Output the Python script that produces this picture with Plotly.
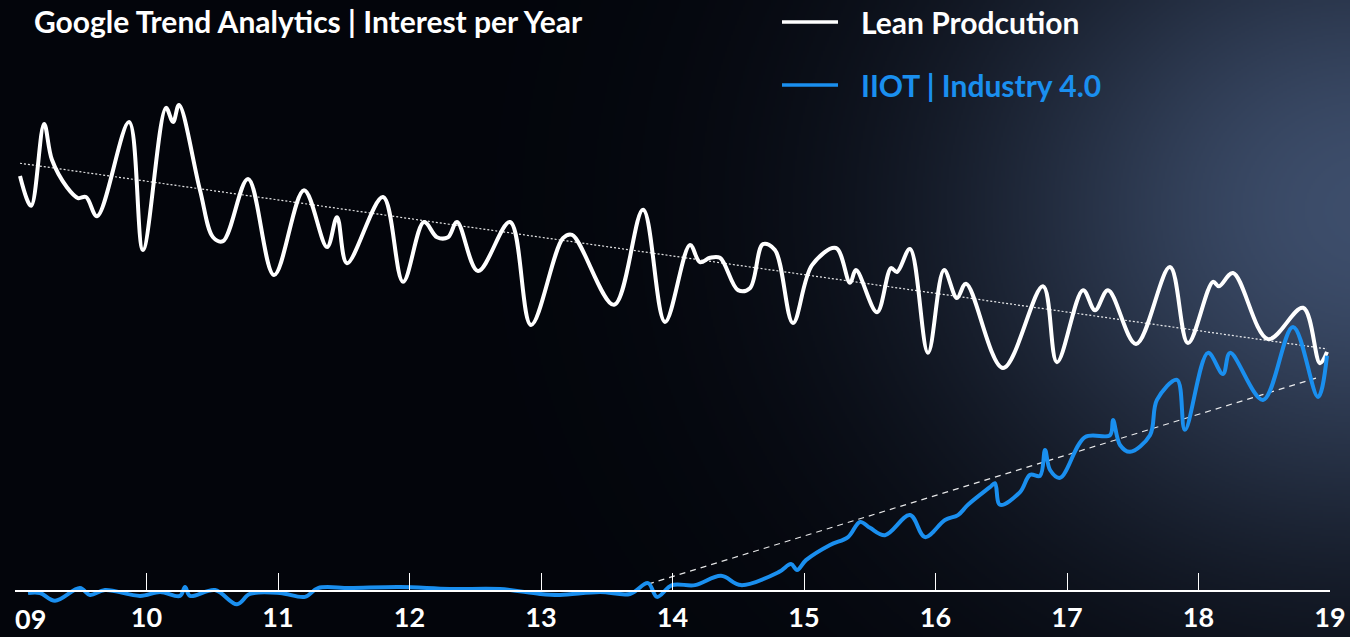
import base64
import struct
import zlib

import numpy as np
import plotly.graph_objects as go

# ---------------- data ----------------
tick_years = [2009, 2010, 2011, 2012, 2013, 2014, 2015, 2016, 2017, 2018, 2019]
tick_labels = ["09", "10", "11", "12", "13", "14", "15", "16", "17", "18", "19"]

lean_x = [2009.038, 2009.122, 2009.221, 2009.281, 2009.395, 2009.479, 2009.540, 2009.624,
          2009.867, 2009.973, 2010.148, 2010.202, 2010.247, 2010.407, 2010.506, 2010.582,
          2010.772, 2010.970, 2011.198, 2011.373, 2011.449, 2011.525, 2011.798, 2011.951,
          2012.110, 2012.209, 2012.293, 2012.361, 2012.521, 2012.764, 2012.924, 2013.167,
          2013.236, 2013.555, 2013.776, 2013.943, 2014.133, 2014.209, 2014.285, 2014.361,
          2014.498, 2014.589, 2014.688, 2014.779, 2014.916, 2015.061, 2015.243, 2015.350,
          2015.395, 2015.555, 2015.662, 2015.707, 2015.806, 2015.943, 2016.065, 2016.163,
          2016.232, 2016.513, 2016.817, 2016.924, 2017.122, 2017.213, 2017.312, 2017.525,
          2017.783, 2017.920, 2018.110, 2018.156, 2018.262, 2018.529, 2018.795, 2018.924,
          2018.977]
lean_y = [84.7, 78.6, 95.3, 88.0, 82.4, 80.2, 80.4, 76.5,
          95.7, 69.6, 98.6, 95.7, 99.2, 81.8, 72.2, 71.4,
          84.1, 64.5, 81.8, 70.2, 76.3, 66.9, 80.4, 63.1,
          75.3, 72.2, 72.2, 75.3, 65.3, 75.3, 54.3, 72.0,
          72.7, 58.4, 77.8, 54.9, 70.6, 67.1, 68.0, 68.0,
          61.4, 61.8, 70.8, 69.6, 54.7, 66.5, 70.0, 62.9,
          65.5, 56.9, 65.9, 65.1, 69.8, 48.6, 65.5, 59.8,
          62.7, 45.5, 62.2, 46.7, 61.4, 57.3, 61.4, 50.4,
          66.1, 50.6, 63.1, 62.2, 64.9, 51.4, 57.8, 46.5,
          48.8]

iiot_x = [2009.099, 2009.190, 2009.304, 2009.494, 2009.570, 2009.684, 2009.951, 2010.103,
          2010.255, 2010.293, 2010.331, 2010.521, 2010.688, 2010.787, 2011.015, 2011.205,
          2011.304, 2011.548, 2011.928, 2012.308, 2012.688, 2012.992, 2013.144, 2013.449,
          2013.677, 2013.814, 2013.882, 2013.996, 2014.171, 2014.369, 2014.521, 2014.810,
          2014.901, 2014.947, 2015.015, 2015.198, 2015.335, 2015.426, 2015.502, 2015.616,
          2015.806, 2015.920, 2016.072, 2016.171, 2016.247, 2016.414, 2016.452, 2016.490,
          2016.643, 2016.719, 2016.795, 2016.833, 2016.871, 2016.947, 2017.137, 2017.327,
          2017.350, 2017.403, 2017.479, 2017.631, 2017.684, 2017.837, 2017.897, 2018.072,
          2018.186, 2018.240, 2018.490, 2018.719, 2018.909, 2018.977]
iiot_y = [-0.4, -0.4, -2.0, 0.6, -0.8, 0.2, -1.0, -0.2,
          -1.0, 0.8, -1.0, 0.2, -2.7, -0.6, -0.4, -1.2,
          0.6, 0.6, 0.8, 0.4, 0.4, -0.6, -0.8, -0.2,
          -0.6, 1.6, -1.2, 1.2, 1.2, 3.1, 1.2, 3.9,
          5.5, 4.3, 6.3, 9.4, 11.0, 14.1, 12.9, 11.4,
          15.5, 11.0, 14.5, 15.5, 17.6, 21.2, 22.0, 17.6,
          20.2, 23.7, 23.5, 28.8, 24.7, 23.1, 31.4, 31.8,
          34.9, 29.8, 28.4, 31.8, 39.0, 43.1, 32.9, 48.6,
          44.3, 48.6, 39.0, 53.9, 39.6, 48.0]

lean_trend_x = [2009.038, 2018.977]
lean_trend_y = [87.3, 49.4]
iiot_trend_x = [2013.814, 2018.924]
iiot_trend_y = [1.4, 43.7]

# ---------------- layout geometry ----------------
FIG_W, FIG_H = 1350, 637
ML, MR, MT, MB = 15, 20, 20, 22
PW = FIG_W - ML - MR
PH = FIG_H - MT - MB
UNIT = 4.9          # px per value unit
ZERO_PY = 591       # pixel row of value 0
ymin = -(FIG_H - MB - ZERO_PY) / UNIT
ymax = ymin + PH / UNIT
axis_pos = (0 - ymin) / (ymax - ymin)

WHITE = "#ffffff"
BLUE = "#1a8fef"
FONT = "Lato"


def px2paper(px, py):
    return (px - ML) / PW, (FIG_H - MB - py) / PH


# ---------------- background glow (radial gradient as PNG) ----------------
def make_png(arr):
    h, w, _ = arr.shape
    raw = b"".join(b"\x00" + arr[r].tobytes() for r in range(h))

    def chunk(tag, data):
        c = struct.pack(">I", len(data)) + tag + data
        return c + struct.pack(">I", zlib.crc32(tag + data) & 0xFFFFFFFF)

    png = b"\x89PNG\r\n\x1a\n"
    png += chunk(b"IHDR", struct.pack(">IIBBBBB", w, h, 8, 2, 0, 0, 0))
    png += chunk(b"IDAT", zlib.compress(raw, 9))
    png += chunk(b"IEND", b"")
    return "data:image/png;base64," + base64.b64encode(png).decode()


SCALE = 2
gw, gh = FIG_W // SCALE, (FIG_H + 1) // SCALE
gx = (np.arange(gw) + 0.5) * SCALE
gy = (np.arange(gh) + 0.5) * SCALE
GX, GY = np.meshgrid(gx, gy)
t = 0.9 * np.exp(-((GX - 1370) / 410.0) ** 2 - ((GY - 210) / 350.0) ** 2)
base = np.array([3, 5, 11], dtype=float)
peak = np.array([68, 86, 118], dtype=float)
img = base[None, None, :] + t[..., None] * (peak - base)[None, None, :]
img = np.clip(img, 0, 255).astype(np.uint8)
bg_uri = make_png(img)

# ---------------- figure ----------------
fig = go.Figure()

fig.add_trace(go.Scatter(x=lean_trend_x, y=lean_trend_y, mode="lines",
                         line=dict(color="rgba(255,255,255,0.9)", width=1.2, dash="2px,2px"),
                         hoverinfo="skip", showlegend=False))
fig.add_trace(go.Scatter(x=iiot_trend_x, y=iiot_trend_y, mode="lines",
                         line=dict(color="rgba(255,255,255,0.9)", width=1.2, dash="6px,5px"),
                         hoverinfo="skip", showlegend=False))
fig.add_trace(go.Scatter(x=lean_x, y=lean_y, mode="lines", name="Lean Prodcution",
                         line=dict(color=WHITE, width=4, shape="spline", smoothing=1.0),
                         showlegend=False))
fig.add_trace(go.Scatter(x=iiot_x, y=iiot_y, mode="lines", name="IIOT | Industry 4.0",
                         line=dict(color=BLUE, width=4, shape="spline", smoothing=1.0),
                         showlegend=False))

ticktext = [""] + tick_labels[1:]

fig.update_layout(
    width=FIG_W, height=FIG_H, autosize=False,
    margin=dict(l=ML, r=MR, t=MT, b=MB, pad=0),
    paper_bgcolor="#03050b",
    plot_bgcolor="rgba(0,0,0,0)",
    showlegend=False,
    xaxis=dict(range=[2009, 2019], tickvals=tick_years, ticktext=ticktext,
               ticks="inside", ticklen=17, tickwidth=1.3, tickcolor=WHITE,
               showline=True, linecolor=WHITE, linewidth=1.5,
               showgrid=False, zeroline=False, anchor="free", position=axis_pos,
               automargin=False, ticklabelstandoff=3,
               tickfont=dict(family=FONT, size=27, color=WHITE, weight="bold")),
    yaxis=dict(range=[ymin, ymax], visible=False, showgrid=False, zeroline=False,
               automargin=False),
    images=[dict(source=bg_uri, xref="paper", yref="paper",
                 x=-ML / PW, y=1 + MT / PH, sizex=FIG_W / PW, sizey=FIG_H / PH,
                 xanchor="left", yanchor="top", sizing="stretch", layer="below")],
)

# "09" label shifted right as in the reference
lx, ly = px2paper(13, 618)
fig.add_annotation(x=lx, xref="paper", y=ly, yref="paper", text=tick_labels[0],
                   showarrow=False, xanchor="left", yanchor="middle",
                   font=dict(family=FONT, size=27, color=WHITE, weight="bold"))

# title
tx, ty = px2paper(32, 21)
fig.add_annotation(x=tx, y=ty, xref="paper", yref="paper",
                   text="Google Trend Analytics | Interest per Year",
                   showarrow=False, xanchor="left", yanchor="middle",
                   font=dict(family=FONT, size=30, color=WHITE, weight="bold"))

# manual legend
legend_items = [("Lean Prodcution", WHITE, 22), ("IIOT | Industry 4.0", BLUE, 85)]
for label, color, py in legend_items:
    x0, yy = px2paper(782, py)
    x1, _ = px2paper(838, py)
    fig.add_shape(type="line", xref="paper", yref="paper", x0=x0, x1=x1, y0=yy, y1=yy,
                  line=dict(color=color, width=3.5))
    ax, _ = px2paper(859, py)
    fig.add_annotation(x=ax, y=yy, xref="paper", yref="paper", text=label,
                       showarrow=False, xanchor="left", yanchor="middle",
                       font=dict(family=FONT, size=30, color=color, weight="bold"))

post = (
    "document.documentElement.style.overflow='hidden';"
    "document.body.style.margin='0';"
    "document.body.style.overflow='hidden';"
    "document.body.style.background='#03050b';"
)

fig.write_html("out.html",
               config={"responsive": False, "displayModeBar": False},
               post_script=post)
